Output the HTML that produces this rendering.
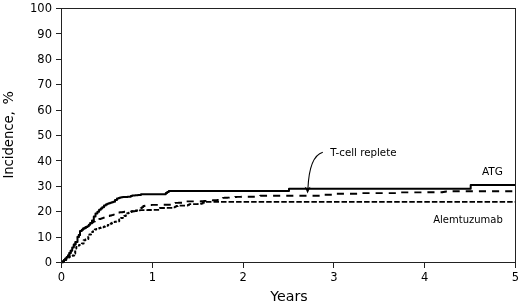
<!DOCTYPE html>
<html>
<head>
<meta charset="utf-8">
<title>Cumulative incidence</title>
<style>
html,body{margin:0;padding:0;background:#fff;}
body{width:520px;height:303px;overflow:hidden;}
svg{display:block;}
text{font-family:"DejaVu Sans","Liberation Sans",sans-serif;fill:#000;}
.t{font-size:10px;}
.k{font-size:11.5px;}
.a{font-size:14.5px;}
</style>
</head>
<body>
<svg width="520" height="303" viewBox="0 0 520 303">
<rect width="520" height="303" fill="#fff"/>
<!-- frame -->
<g stroke="#222" stroke-width="1" fill="none" shape-rendering="crispEdges">
<path d="M61.5 8.5H515.5V262.5H61.5Z"/>
<path d="M56 8.5H61M56 33.9H61M56 59.3H61M56 84.7H61M56 110.1H61M56 135.5H61M56 160.9H61M56 186.3H61M56 211.7H61M56 237.1H61M56 262.5H61"/>
<path d="M61.5 262V267.5M152.3 262V267.5M243.1 262V267.5M333.9 262V267.5M424.7 262V267.5M515.5 262V267.5"/>
</g>
<!-- y tick labels -->
<g class="k" text-anchor="end">
<text x="52" y="12.2">100</text>
<text x="52" y="37.6">90</text>
<text x="52" y="63.0">80</text>
<text x="52" y="88.4">70</text>
<text x="52" y="113.8">60</text>
<text x="52" y="139.2">50</text>
<text x="52" y="164.6">40</text>
<text x="52" y="190.0">30</text>
<text x="52" y="215.4">20</text>
<text x="52" y="240.8">10</text>
<text x="52" y="266.2">0</text>
</g>
<!-- x tick labels -->
<g class="k" text-anchor="middle">
<text x="61.5" y="281">0</text>
<text x="152.3" y="281">1</text>
<text x="243.1" y="281">2</text>
<text x="333.9" y="281">3</text>
<text x="424.7" y="281">4</text>
<text x="515.5" y="281">5</text>
</g>
<text class="a" x="289" y="301.3" text-anchor="middle" style="font-size:14.2px">Years</text>
<text class="a" transform="translate(13.4 178.6) rotate(-90)"><tspan textLength="67.4" lengthAdjust="spacingAndGlyphs">Incidence,</tspan><tspan x="69.7" textLength="18" lengthAdjust="spacingAndGlyphs"> %</tspan></text>
<!-- curves -->
<g fill="none" stroke="#000" stroke-width="2" stroke-linejoin="round">
<path id="atg" d="M62.3 262.3H62.8V261.4H63.4H64.0V260.0H64.7H65.3V258.6H66.0H66.7V256.9H67.3H68.0V255.2H68.7H69.4V253.0H70.1H70.7V250.8H71.4H72.2V247.4H73.0H73.8V244.6H74.6H75.5V242.0H76.4H77.5V237.1H78.5H78.8V235.0H79.0H80.0V231.0H81.0H81.8V229.7H82.5H83.2V228.4H84.0H84.7V227.7H85.3H86.0V227.0H86.7H87.3V226.3H88.0H88.8V224.7H89.5H90.2V223.0H91.0H92.0V220.5H93.0H93.8V216.5H94.5H95.5V213.5H96.5H97.4V211.7H98.2H99.1V209.8H100.0H100.8V208.5H101.5H102.2V207.2H103.0H104.0V205.4H105.0H105.8V204.6H106.5H107.2V203.8H108.0H108.8V203.2H109.5H110.2V202.7H111.0H111.8V202.2H112.5H113.2V201.8H114.0H115.0V200.0H116.0H117.0V198.4H118.0H118.7V198.0H119.3H120.0V197.6H120.7H121.3V197.2H122.0H122.8V197.1H123.6H124.4V197.0H125.2H126.0V196.9H126.8H127.6V196.8H128.4H129.2V196.7H130.0H130.8V196.1H131.5H132.2V195.5H133.0H133.7V195.4H134.4H135.1V195.3H135.8H136.5V195.2H137.2H137.9V195.1H138.6H139.3V195.0H140.0H141.0V194.2H142.0H165H165.8V193.1H166.5H167.2V192.1H168.0H168.8V191.0H169.5H289V188.7H470.7V185H515"/>
<path id="tcr" stroke-width="1.9" stroke-dasharray="7.1 6.05" stroke-dashoffset="12.25" d="M62.3 262.3H62.8V261.4H63.4H64.0V260.0H64.7H65.3V258.6H66.0H66.7V256.9H67.3H68.0V255.2H68.7H69.4V253.0H70.1H70.7V250.8H71.4H72.2V247.4H73.0H73.8V244.6H74.6H75.5V242.0H76.4H77.5V237.1H78.5H78.8V235.0H79.0H80.0V231.0H81.0H81.8V229.7H82.5H83.2V228.4H84.0H84.7V227.7H85.3H86.0V227.0H86.7H87.3V226.3H88.0H88.8V224.9H89.5H90.2V223.4H91.0H91.8V222.4H92.5H93.2V221.5H94.0H94.8V220.9H95.5H96.2V220.2H97.0H97.8V219.6H98.5H99.2V219.0H100.0H100.7V218.6H101.3H102.0V218.1H102.7H103.3V217.7H104.0H104.8V217.1H105.7H106.5V216.6H107.3H108.2V216.0H109.0H109.8V215.5H110.7H111.5V215.1H112.3H113.2V214.6H114.0H114.8V213.9H115.7H116.5V213.2H117.3H118.2V212.5H119.0H119.8V212.3H120.5H121.2V212.2H122.0H122.8V212.0H123.5H124.2V211.8H125.0H125.8V211.7H126.5H127.2V211.6H128.0H128.8V211.5H129.5H130.2V211.4H131.0H131.8V211.3H132.5H133.2V211.2H134.0H134.8V211.1H135.5H136.2V211.0H137.0H137.8V210.1H138.5H139.2V209.2H140.0H140.7V208.1H141.3H142.0V207.1H142.7H143.3V206.0H144.0H144.7V205.7H145.3H146.0V205.3H146.7H147.3V205.0H148.0"/>
<path id="tcr2" stroke-width="1.9" stroke-dasharray="7.1 6.05" stroke-dashoffset="10.35" d="M148 205H148.8V205.0H149.5H150.2V205.0H151.0H151.8V204.9H152.5H153.2V204.9H154.0H154.8V204.9H155.5H156.2V204.9H157.0H157.8V204.9H158.5H159.2V204.8H160.0H160.8V204.8H161.5H162.2V204.8H163.0H163.8V204.8H164.5H165.2V204.8H166.0H166.8V204.8H167.5H168.2V204.7H169.0H169.8V204.7H170.5H171.2V204.7H172.0H172.6V203.8H173.2H173.9V203.0H174.5H175.3V202.9H176.1H176.9V202.9H177.7H178.5V202.8H179.2H180.0V202.8H180.8H181.6V202.8H182.4H183.2V202.7H184.0H184.8V202.1H185.5H186.2V201.4H187.0H200H200.8V201.3H201.5H202.2V201.1H203.0H203.8V201.0H204.5H205.2V200.9H206.0H206.8V200.7H207.5H208.2V200.6H209.0H209.8V200.5H210.5H211.2V200.4H212.0H212.8V200.3H213.5H214.2V200.2H215.0H215.8V200.1H216.5H217.2V200.0H218.0H218.7V199.3H219.3H220.0V198.7H220.7H221.3V198.0H222.0H222.8V197.9H223.6H224.4V197.8H225.2H226.0V197.7H226.8H227.6V197.6H228.4H229.2V197.5H230.0H230.8V197.4H231.5H232.2V197.2H233.0H233.8V197.1H234.5H235.2V197.0H236.0H236.8V196.9H237.5H238.2V196.9H239.0H239.8V196.9H240.5H241.2V196.8H242.0H242.7V196.8H243.5H244.2V196.8H244.9H245.6V196.8H246.4H247.1V196.8H247.8H248.5V196.8H249.3H250.0V196.7H250.7H251.5V196.7H252.2H252.9V196.7H253.6H254.4V196.7H255.1H255.8V196.7H256.5H257.3V196.7H258.0H258.8V196.2H259.5H260.2V195.8H261.0H321H321.8V195.3H322.5H323.2V194.8H324.0H334H334.6V194.3H335.2H335.9V193.8H336.5H358H358.8V193.4H359.5H360.2V193.1H361.0H398H398.6V192.8H399.2H399.9V192.4H400.5H401.2V192.4H402.0H402.7V192.4H403.5H404.2V192.4H404.9H405.7V192.4H406.4H407.2V192.4H407.9H408.7V192.4H409.4H410.1V192.4H410.9H411.6V192.4H412.4H413.1V192.4H413.8H414.6V192.4H415.3H416.1V192.4H416.8H417.5V192.4H418.3H419.0V192.4H419.8H420.5V192.4H421.2H422.0V192.3H422.7H423.5V192.3H424.2H425.0V192.3H425.7H426.4V192.3H427.2H427.9V192.3H428.7H429.4V192.3H430.1H430.9V192.3H431.6H432.4V192.3H433.1H433.8V192.3H434.6H435.3V192.3H436.1H436.8V192.3H437.6H438.3V192.3H439.0H439.8V192.3H440.5H441.3V192.3H442.0H442.8V192.0H443.5H444.2V191.8H445.0H445.8V191.5H446.5H447.2V191.2H448.0H515"/>
<path id="alem" stroke-width="2" stroke-dasharray="3.2 2.2" d="M62.3 262.3H63.1V261.2H64.0H64.8V259.9H65.5H66.2V258.5H67.0H67.8V257.6H68.5H69.2V256.8H70.0H70.9V256.1H71.8H72.7V255.4H73.6H74.2V253.4H74.7H75.2V248.6H75.6H76.3V247.1H77.0H77.8V245.6H78.5H79.2V244.9H79.9H80.5V244.1H81.2H81.9V243.4H82.6H83.6V240.2H84.6H85.4V239.6H86.2H86.9V239.1H87.7H88.3V236.8H88.8H89.4V234.5H90.0H91.0V232.0H92.0H93.0V230.2H94.0H94.8V229.6H95.5H96.2V229.1H97.0H97.8V228.5H98.5H99.2V228.1H100.0H100.8V227.6H101.5H102.2V227.2H103.0H103.7V226.7H104.3H105.0V226.3H105.7H106.3V225.8H107.0H107.8V225.0H108.5H109.2V224.2H110.0H110.7V223.5H111.3H112.0V222.7H112.7H113.3V222.0H114.0H114.8V221.7H115.5H116.2V221.5H117.0H117.8V221.2H118.5H119.2V219.5H120.0H121.0V218.0H122.0H122.8V217.0H123.5H124.2V216.0H125.0H125.8V214.6H126.5H127.2V213.2H128.0H128.7V212.7H129.3H130.0V212.1H130.7H131.3V211.6H132.0H132.8V211.3H133.5H134.2V210.9H135.0H135.8V210.6H136.5H137.2V210.3H138.0"/>
<path id="alem2" stroke-width="1.8" stroke-dasharray="5.5 2.03" stroke-dashoffset="6.47" d="M138 210.3H138.8V210.3H139.5H140.2V210.2H141.0H141.8V210.2H142.5H143.2V210.2H144.0H144.8V210.1H145.5H146.2V210.1H147.0H147.8V210.0H148.5H149.2V210.0H150.0H150.8V210.0H151.5H152.2V209.9H153.0H153.8V209.9H154.5H155.2V209.9H156.0H156.8V209.8H157.5H158.2V209.8H159.0H159.8V208.0H160.5H161.3V208.0H162.1H162.8V208.0H163.6H164.4V208.0H165.2H166.0V207.9H166.8H167.5V207.9H168.3H169.1V207.9H169.9H170.7V207.9H171.4H172.2V207.9H173.0H173.7V207.3H174.3H175.0V206.6H175.7H176.3V206.0H177.0H177.8V205.8H178.5H179.2V205.7H180.0H180.7V205.7H181.4H182.1V205.7H182.8H183.5V205.6H184.2H184.9V205.6H185.6H186.3V205.6H187.0H187.8V204.9H188.5H189.2V204.2H190.0H190.7V204.2H191.4H192.1V204.1H192.9H193.6V204.1H194.3H195.0V204.1H195.7H196.4V204.1H197.1H197.9V204.0H198.6H199.3V204.0H200.0H201.0V203.5H202.0H202.8V202.7H203.5H204.2V201.9H205.0H515"/>
</g>
<!-- annotation -->
<path d="M322.8 152.3C313.5 155 308.8 168 307.9 189" fill="none" stroke="#000" stroke-width="1.1"/>
<path d="M304.7 186.8L307.6 193.5L310.5 186.8L307.7 188.4Z" fill="#000"/>
<text class="t" x="330.3" y="155.8" textLength="66.2" lengthAdjust="spacingAndGlyphs">T-cell replete</text>
<text class="t" x="502.9" y="175.3" text-anchor="end" textLength="21" lengthAdjust="spacingAndGlyphs">ATG</text>
<text class="t" x="502.8" y="222.8" text-anchor="end">Alemtuzumab</text>
</svg>
</body>
</html>
